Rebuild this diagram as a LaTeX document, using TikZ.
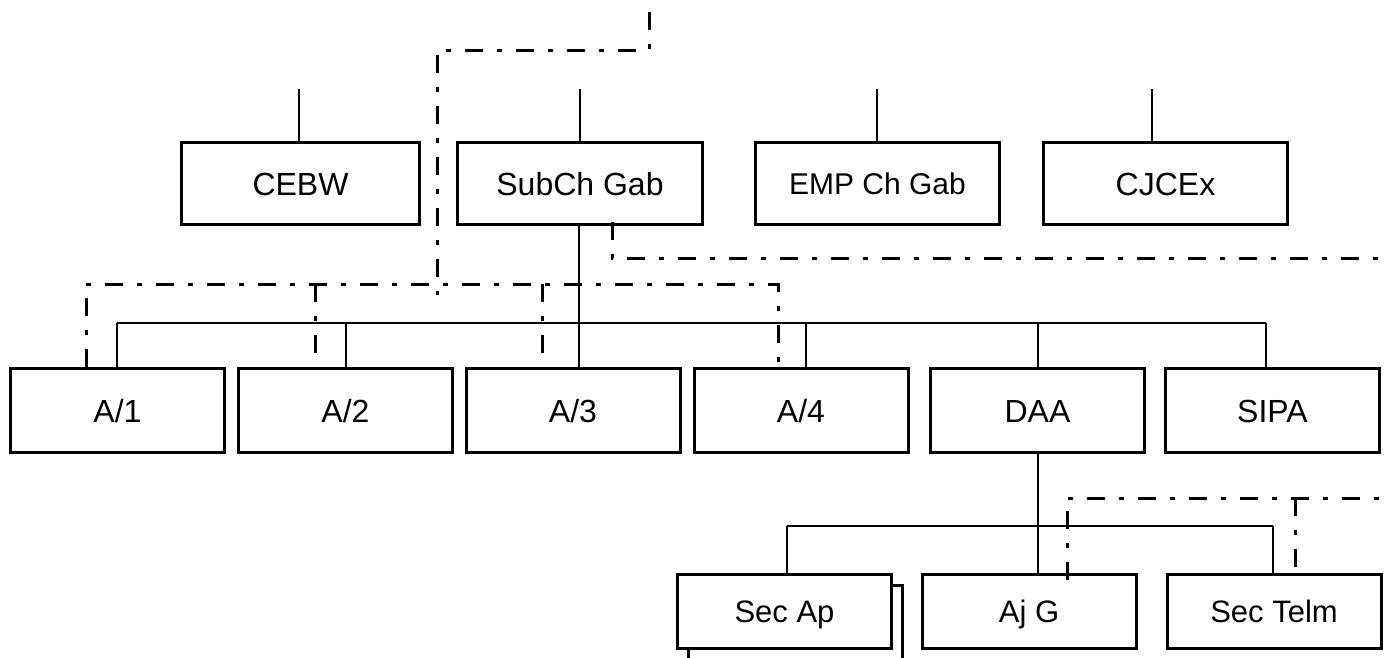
\documentclass[tikz,border=0pt]{standalone}
\usepackage{fontspec}
\setmainfont{Liberation Sans}
\begin{document}
\begin{tikzpicture}[x=1pt,y=-1pt,
  box/.style={draw, line width=3pt, fill=white, inner sep=0pt, minimum width=214pt, minimum height=84pt, text height=23pt, text depth=0pt, font=\fontsize{32}{38}\selectfont},
  conn/.style={line width=2pt},
  dd/.style={line width=3pt, dash pattern=on 18pt off 14pt on 5pt off 14pt}]
\useasboundingbox (0,0) rectangle (1391,657);
% top row
\node[box, minimum width=238pt, minimum height=82pt] (CEBW) at (300.5,183.5) {CEBW};
\node[box, minimum width=245pt, minimum height=82pt] (SubCh) at (580,183.5) {SubCh Gab};
\node[box, minimum width=244pt, minimum height=82pt, font=\fontsize{30}{36}\selectfont, text height=21.5pt] (EMP) at (877.5,183.5) {EMP Ch Gab};
\node[box, minimum width=244pt, minimum height=82pt] (CJCEx) at (1165.5,183.5) {CJCEx};
% middle row
\node[box] (A1) at (117.5,410.5) {A/1};
\node[box] (A2) at (345.5,410.5) {A/2};
\node[box] (A3) at (573,410.5) {A/3};
\node[box] (A4) at (801,410.5) {A/4};
\node[box] (DAA) at (1037.5,410.5) {DAA};
\node[box] (SIPA) at (1272.5,410.5) {SIPA};
% bottom row
\node[box, minimum height=74pt] (SecApB) at (795.5,622.5) {};
\node[box, minimum height=74pt, font=\fontsize{31}{37}\selectfont, text height=22pt] (SecAp) at (784.5,611.5) {Sec Ap};
\node[box, minimum height=74pt, font=\fontsize{31}{37}\selectfont, text height=22pt] (AjG) at (1029,611.5) {Aj G};
\node[box, minimum height=74pt, font=\fontsize{31}{37}\selectfont, text height=22pt] (SecTelm) at (1274,611.5) {Sec Telm};
% coordinates
\coordinate (t1) at (299,89);
\coordinate (t2) at (580,89);
\coordinate (t3) at (877,89);
\coordinate (t4) at (1152,89);
\coordinate (b1) at (117,323);
\coordinate (b2) at (346,323);
\coordinate (b3) at (579,323);
\coordinate (b4) at (806,323);
\coordinate (b5) at (1038,323);
\coordinate (b6) at (1266,323);
\coordinate (c1) at (787,526);
\coordinate (c2) at (1038,526);
\coordinate (c3) at (1273,526);
% solid connectors
\draw[conn] (t1) -- (t1 |- CEBW.north);
\draw[conn] (t2) -- (t2 |- SubCh.north);
\draw[conn] (t3) -- (t3 |- EMP.north);
\draw[conn] (t4) -- (t4 |- CJCEx.north);
\draw[conn] (b1) -- (b6);
\draw[conn] (b1) -- (b1 |- A1.north);
\draw[conn] (b2) -- (b2 |- A2.north);
\draw[conn] (b3 |- SubCh.south) -- (b3 |- A3.north);
\draw[conn] (b4) -- (b4 |- A4.north);
\draw[conn] (b5) -- (b5 |- DAA.north);
\draw[conn] (b6) -- (b6 |- SIPA.north);
\draw[conn] (c2 |- DAA.south) -- (c2 |- AjG.north);
\draw[conn] (c1) -- (c3);
\draw[conn] (c1) -- (c1 |- SecAp.north);
\draw[conn] (c3) -- (c3 |- SecTelm.north);
% dash-dot lines
\coordinate (d1) at (649,12);
\coordinate (d2) at (649,50);
\coordinate (d3) at (437,50);
\coordinate (d4) at (437,295);
\draw[dd] (d1) -- (d2) -- (d3) -- (d4);
\coordinate (e1) at (86,284);
\coordinate (e2) at (315,284);
\coordinate (e3) at (542,284);
\coordinate (e4) at (778,284);
\draw[dd] (e1 |- A1.north) -- (e1) -- (e4) -- (e4 |- A4.north);
\draw[dd] (e2) -- (e2 |- A2.north);
\draw[dd] (e3) -- (e3 |- A3.north);
\coordinate (f1) at (612,222);
\coordinate (f2) at (612,258);
\coordinate (f3) at (1391,258);
\draw[dd] (f1) -- (f2) -- (f3);
\coordinate (g1) at (1067,580);
\coordinate (g2) at (1067,498);
\coordinate (g3) at (1391,498);
\coordinate (g4) at (1295,498);
\coordinate (g5) at (1295,580);
\draw[dd] (g1) -- (g2) -- (g3);
\draw[dd] (g4) -- (g5);
\end{tikzpicture}
\end{document}
